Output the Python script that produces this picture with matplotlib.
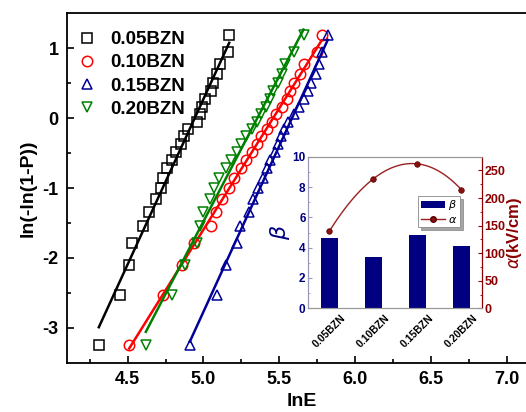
import numpy as np
import matplotlib
matplotlib.use("Agg")
import matplotlib.pyplot as plt

plt.rcParams['font.family'] = ['Liberation Sans', 'DejaVu Sans']
plt.rcParams['axes.unicode_minus'] = False

# Weibull ordinate ln(-ln(1-P)) for the 25 ranked points
y_vals = [-3.24, -2.53, -2.10, -1.79, -1.54, -1.34, -1.16, -1.00, -0.86, -0.72,
          -0.60, -0.48, -0.37, -0.26, -0.15, -0.05, 0.06, 0.16, 0.27, 0.38,
          0.50, 0.63, 0.77, 0.94, 1.18]

x_005 = [4.31, 4.45, 4.51, 4.53, 4.60, 4.64, 4.69, 4.72, 4.73, 4.76,
         4.79, 4.82, 4.85, 4.87, 4.90, 4.96, 4.98, 4.99, 5.01, 5.05,
         5.06, 5.09, 5.11, 5.16, 5.17]
x_010 = [4.51, 4.73, 4.86, 4.94, 5.05, 5.08, 5.12, 5.17, 5.20, 5.25,
         5.28, 5.32, 5.35, 5.38, 5.42, 5.45, 5.48, 5.52, 5.55, 5.57,
         5.60, 5.64, 5.66, 5.75, 5.78]
x_015 = [4.91, 5.09, 5.15, 5.22, 5.24, 5.30, 5.33, 5.36, 5.39, 5.42,
         5.44, 5.47, 5.49, 5.51, 5.53, 5.56, 5.60, 5.63, 5.66, 5.69,
         5.71, 5.74, 5.76, 5.78, 5.82]
x_020 = [4.62, 4.79, 4.88, 4.96, 4.98, 5.00, 5.04, 5.07, 5.10, 5.15,
         5.18, 5.22, 5.25, 5.28, 5.32, 5.35, 5.38, 5.41, 5.44, 5.46,
         5.49, 5.52, 5.54, 5.60, 5.66]

series_labels = ['0.05BZN', '0.10BZN', '0.15BZN', '0.20BZN']
series_x = [x_005, x_010, x_015, x_020]
series_colors = ['black', '#FF0000', '#000099', '#008000']
series_markers = ['s', 'o', '^', 'v']

# inset data
inset_cats = ['0.05BZN', '0.10BZN', '0.15BZN', '0.20BZN']
beta = [4.64, 3.39, 4.84, 4.11]
alpha = [140, 235, 262, 215]

fig = plt.figure(figsize=(5.26, 4.12), dpi=100)
ax = fig.add_axes([67/526, 1-363/412, 470/526, 350/412])

for xs, lab, c, m in zip(series_x, series_labels, series_colors, series_markers):
    xs = np.array(xs)
    ys = np.array(y_vals)
    ax.plot(xs, ys, ls='none', marker=m, mfc='none', mec=c, ms=7.5, mew=1.1,
            label=lab)
    k, b = np.polyfit(xs, ys, 1)
    xx = np.array([xs.min(), xs.max()])
    ax.plot(xx, k*xx + b, color=c, lw=1.8)

ax.set_xlim(4.1, 7.2)
ax.set_ylim(-3.5, 1.5)
ax.set_xticks([4.5, 5.0, 5.5, 6.0, 6.5, 7.0])
ax.set_xticks(np.arange(4.25, 7.2, 0.5), minor=True)
ax.set_yticks([-3, -2, -1, 0, 1])
ax.set_yticks([-2.5, -1.5, -0.5, 0.5], minor=True)
ax.tick_params(which='both', direction='in', width=1.2, top=False, right=False)
ax.tick_params(which='major', length=5, labelsize=13, pad=6)
ax.tick_params(which='minor', length=3)
for lbl in ax.get_xticklabels() + ax.get_yticklabels():
    lbl.set_fontweight('bold')
for s in ax.spines.values():
    s.set_linewidth(1.3)
ax.set_xlabel('lnE', fontsize=14, fontweight='bold', labelpad=3.5)
ax.set_ylabel('ln(-ln(1-P))', fontsize=14, fontweight='bold', labelpad=4)

leg = ax.legend(loc='upper left', bbox_to_anchor=(0.022, 0.948), frameon=False,
                prop={'size': 13.5, 'weight': 'bold'}, handlelength=1.0,
                handletextpad=0.75, labelspacing=0.32, borderpad=0,
                borderaxespad=0)

# inset
ax2 = fig.add_axes([308.3/526, 1-308.3/412, 173.4/526, 151.6/412])
pos = np.arange(len(inset_cats))
bars = ax2.bar(pos, beta, width=0.4, color='#000080', label=r'$\beta$')
ax2.set_ylim(0, 10)
ax2.set_xlim(-0.48, 3.46)
ax2.set_yticks([0, 2, 4, 6, 8, 10])
ax2.set_yticks([1, 3, 5, 7, 9], minor=True)
ax2.set_xticks(pos)
ax2.set_xticklabels(inset_cats, rotation=45, ha='center', fontsize=7.5,
                    fontweight='bold')
ax2.tick_params(axis='x', length=0, pad=3)
ax2.tick_params(axis='y', which='both', direction='in', colors='#9999bb',
                labelcolor='#000080', labelsize=8.5, pad=2)
ax2.tick_params(axis='y', which='major', length=3)
ax2.tick_params(axis='y', which='minor', length=1.5)
for lbl in ax2.get_yticklabels():
    lbl.set_fontweight('bold')
ax2.set_ylabel(r'$\beta$', color='#000080', fontsize=16, labelpad=0)
for s in ['top', 'bottom']:
    ax2.spines[s].set_color('#999999')
ax2.spines['left'].set_color('#9999bb')

ax3 = ax2.twinx()
coef = np.polyfit(pos, alpha, 3)
xs_s = np.linspace(0, 3, 100)
ax3.plot(xs_s, np.polyval(coef, xs_s), color='#9B2020', lw=1.0)
ax3.plot(pos, alpha, ls='none', marker='o', ms=4, color='#8B1010',
         mec='#5a0000', mew=0.5)
line_h, = ax3.plot([], [], color='#9B2020', lw=1.0, marker='o', ms=4,
                   mfc='#8B1010', mec='#5a0000', label=r'$\alpha$')
ax3.set_ylim(0, 275)
ax3.set_yticks([0, 50, 100, 150, 200, 250])
ax3.set_yticks(np.arange(25, 275, 50), minor=True)
ax3.tick_params(axis='y', which='both', direction='in', colors='#8B0000',
                labelsize=9, pad=2)
ax3.tick_params(axis='y', which='major', length=3)
ax3.tick_params(axis='y', which='minor', length=1.5)
for lbl in ax3.get_yticklabels():
    lbl.set_fontweight('bold')
ax3.spines['right'].set_color('#8B0000')
ax3.spines['top'].set_color('#999999')
ax3.spines['bottom'].set_color('#999999')
ax3.spines['left'].set_color('#9999bb')
ax3.set_ylabel(r'$\alpha$(kV/cm)', color='#8B0000', fontsize=12,
               fontweight='bold', labelpad=0)

lg2 = ax3.legend([bars, line_h], [r'$\beta$', r'$\alpha$'], loc='upper left',
                 bbox_to_anchor=(0.635, 0.74), fontsize=8, frameon=True,
                 fancybox=False, shadow=True, borderpad=0.2, handlelength=2.2,
                 handletextpad=0.3, labelspacing=0.2, borderaxespad=0)
lg2.get_frame().set_edgecolor('#888888')
lg2.get_frame().set_linewidth(0.6)

fig.savefig('out.png', dpi=100)
